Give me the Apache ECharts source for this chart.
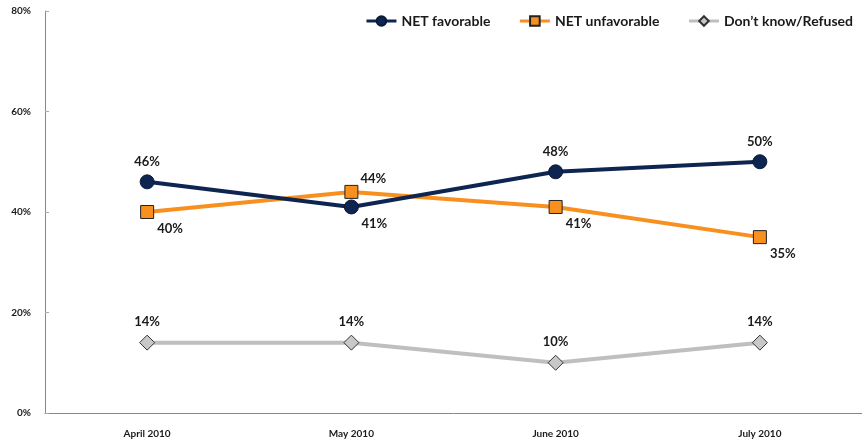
<!DOCTYPE html>
<html><head><meta charset="utf-8">
<script src="https://cdn.jsdelivr.net/npm/echarts@6/dist/echarts.min.js"></script>
<style>html,body{margin:0;padding:0;background:#fff}#c{width:862px;height:443px}</style>
</head><body><div id="c"></div>
<script>
var categories = ['April 2010', 'May 2010', 'June 2010', 'July 2010'];
var favorable = [46, 41, 48, 50];
var unfavorable = [40, 44, 41, 35];
var dontKnow = [14, 14, 10, 14];
var yTicks = [0, 20, 40, 60, 80];

// label placements: 'a' = above, 'br' = below-right, 'ar' = above-right
var favPlace = ['a', 'br', 'a', 'a'];
var unfPlace = ['br', 'ar', 'br', 'br'];
var dkPlace = ['a', 'a', 'a', 'a'];

function mk(vals, places) {
  return vals.map(function (v, i) {
    var p = places[i], lab;
    if (p === 'a') lab = { position: 'top', distance: 6, offset: [0, 0] };
    else if (p === 'br') lab = { position: 'bottom', distance: 3, offset: [23, 0] };
    else lab = { position: 'top', distance: 2, offset: [22, 2] };
    return { value: v, label: lab };
  });
}
var font = 'Lato, "Open Sans", sans-serif';
var lblStyle = { show: true, formatter: '{c}%', fontSize: 13, fontWeight: 'bold', color: '#1a1a1a', fontFamily: font };

var chart = echarts.init(document.getElementById('c'), null, { renderer: 'canvas' });
chart.setOption({
  animation: false,
  grid: { left: 45, right: 0, top: 11, bottom: 30, containLabel: false },
  legend: {
    top: 9, right: 4, itemWidth: 30, itemHeight: 12, itemGap: 28,
    lineStyle: { width: 3 },
    textStyle: { fontSize: 14, fontWeight: 'bold', color: '#1a1a1a', fontFamily: font },
    data: ['NET favorable', 'NET unfavorable', 'Don\u2019t know/Refused']
  },
  xAxis: {
    type: 'category', data: categories, boundaryGap: true,
    axisLine: { lineStyle: { color: '#888', width: 1 } },
    axisTick: { inside: true, length: 4, lineStyle: { color: '#aaa' } },
    axisLabel: { fontSize: 10, fontWeight: 'bold', color: '#1a1a1a', margin: 16, fontFamily: font }
  },
  yAxis: {
    type: 'value', min: yTicks[0], max: yTicks[yTicks.length - 1], interval: 20,
    axisLine: { show: true, lineStyle: { color: '#888', width: 1 } },
    axisTick: { show: true, inside: true, length: 4, lineStyle: { color: '#aaa' } },
    splitLine: { show: false },
    axisLabel: { formatter: '{value}%', fontSize: 10, fontWeight: 'bold', color: '#1a1a1a', margin: 14, fontFamily: font }
  },
  series: [
    {
      name: 'NET favorable', type: 'line', data: mk(favorable, favPlace),
      symbol: 'circle', symbolSize: 14,
      lineStyle: { color: '#0d2550', width: 4 },
      itemStyle: { color: '#0d2550', borderColor: '#0a1a36', borderWidth: 1 },
      label: lblStyle, z: 3
    },
    {
      name: 'NET unfavorable', type: 'line', data: mk(unfavorable, unfPlace),
      symbol: 'rect', symbolSize: 13,
      lineStyle: { color: '#f7901e', width: 4 },
      itemStyle: { color: '#f7901e', borderColor: '#222', borderWidth: 1 },
      label: lblStyle, z: 2
    },
    {
      name: 'Don\u2019t know/Refused', type: 'line', data: mk(dontKnow, dkPlace),
      symbol: 'diamond', symbolSize: 15,
      lineStyle: { color: '#bfbfbf', width: 4 },
      itemStyle: { color: '#c8c8c8', borderColor: '#333', borderWidth: 1 },
      label: lblStyle, z: 1
    }
  ]
});
</script></body></html>
